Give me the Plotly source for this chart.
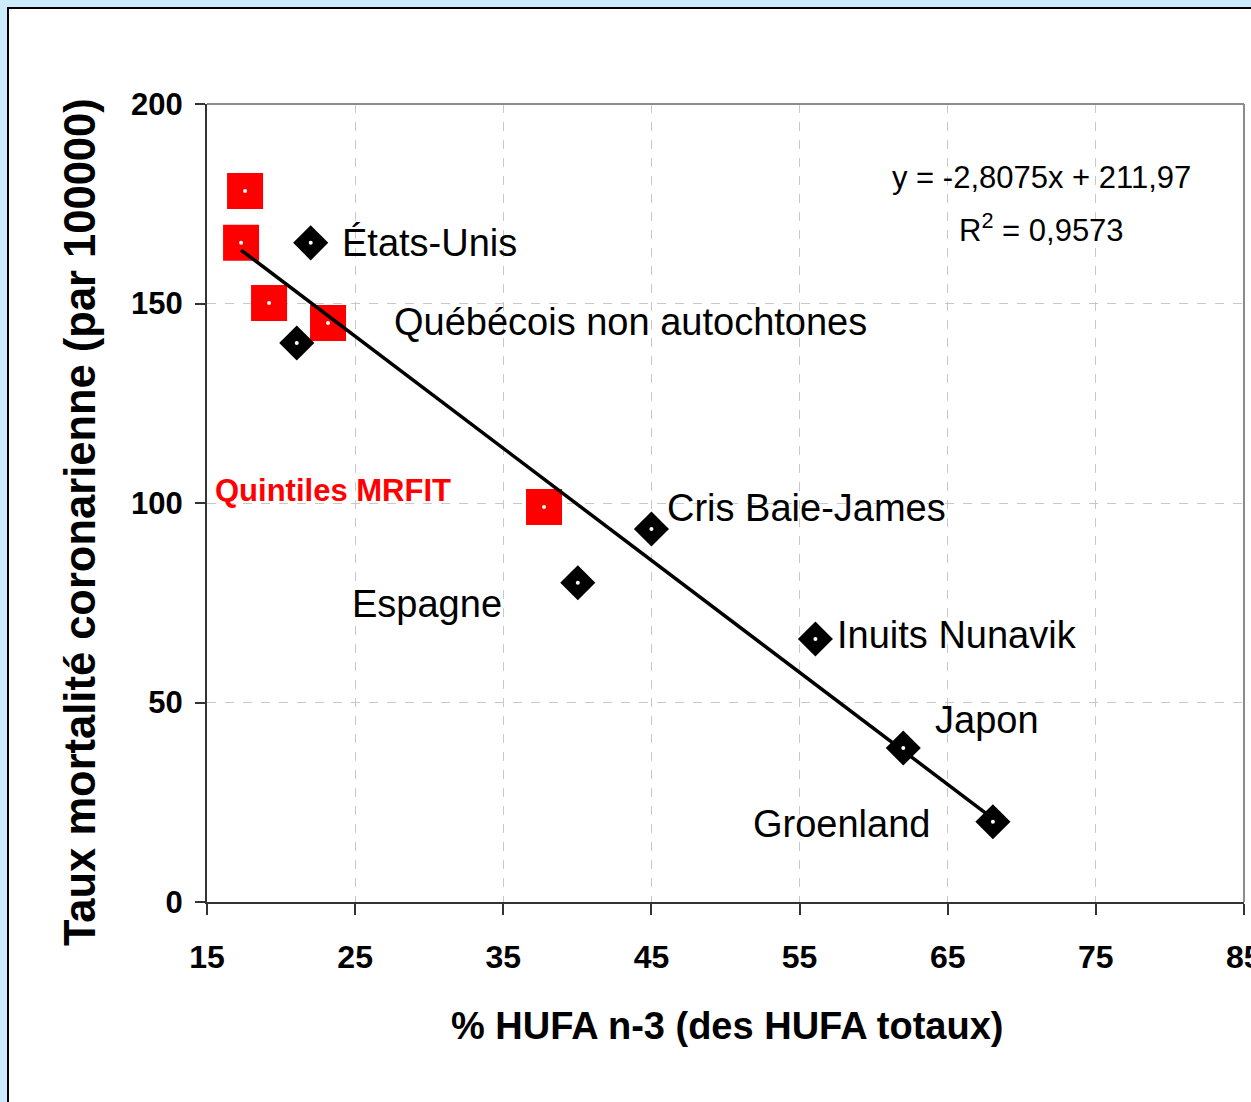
import plotly.graph_objects as go

# ---- data ----
mrfit_x = [17.57, 17.3, 19.19, 23.17, 37.75]
mrfit_y = [178.2, 165.2, 150.1, 145.1, 99.0]

pop_names = ["États-Unis", "Québécois non autochtones", "Espagne", "Cris Baie-James",
             "Inuits Nunavik", "Japon", "Groenland"]
pop_x = [22.0, 21.06, 40.03, 45.0, 56.07, 62.0, 68.05]
pop_y = [165.2, 140.1, 80.0, 93.5, 65.9, 38.6, 20.1]

trend_x = [17.3, 68.05]
trend_y = [163.4, 20.9]

x_ticks = [15, 25, 35, 45, 55, 65, 75, 85]
y_ticks = [0, 50, 100, 150, 200]

eq_text = "y = -2,8075x + 211,97"
r2_text = "R<sup>2</sup> = 0,9573"
x_title = "% HUFA n-3 (des HUFA totaux)"
y_title = "Taux mortalité coronarienne (par 100000)"

FONT = "Arial, Liberation Sans, sans-serif"

fig = go.Figure()
fig.add_trace(go.Scatter(x=mrfit_x, y=mrfit_y, mode="markers",
                         marker=dict(symbol="square", size=36, color="#FF0000",
                                     line=dict(width=0)),
                         hoverinfo="skip", showlegend=False))
fig.add_trace(go.Scatter(x=pop_x, y=pop_y, mode="markers",
                         marker=dict(symbol="diamond", size=27, color="black",
                                     line=dict(width=0)),
                         text=pop_names, showlegend=False))
fig.add_trace(go.Scatter(x=trend_x, y=trend_y, mode="lines",
                         line=dict(color="black", width=3.5),
                         hoverinfo="skip", showlegend=False))
fig.add_trace(go.Scatter(x=mrfit_x + pop_x, y=mrfit_y + pop_y, mode="markers",
                         marker=dict(symbol="circle", size=4, color="white",
                                     line=dict(width=0)),
                         hoverinfo="skip", showlegend=False))

# label annotations (positions in data units)
label_pos = {
    "États-Unis": (23.98, 165.2),
    "Québécois non autochtones": (27.49, 145.4),
    "Espagne": (24.66, 74.8),
    "Cris Baie-James": (45.92, 98.8),
    "Inuits Nunavik": (57.4, 67.0),
    "Japon": (64.02, 45.5),
    "Groenland": (51.73, 19.6),
}
annotations = []
for name in pop_names:
    lx, ly = label_pos[name]
    annotations.append(dict(x=lx, y=ly, xref="x", yref="y", text=name,
                            showarrow=False, xanchor="left", yanchor="middle",
                            font=dict(family=FONT, size=38, color="black")))
annotations.append(dict(x=15.41, y=103.2, xref="x", yref="y", text="<b>Quintiles MRFIT</b>",
                        showarrow=False, xanchor="left", yanchor="middle",
                        font=dict(family=FONT, size=31, color="#FF0000")))
annotations.append(dict(x=71.31, y=181.5, xref="x", yref="y", text=eq_text,
                        showarrow=False, xanchor="center", yanchor="middle",
                        font=dict(family=FONT, size=31, color="black")))
annotations.append(dict(x=71.31, y=169.0, xref="x", yref="y", text=r2_text,
                        showarrow=False, xanchor="center", yanchor="middle",
                        font=dict(family=FONT, size=31, color="black")))

W, H = 1251, 1102
L, R, T, B = 207, 7, 104, 200
pw, ph = W - L - R, H - T - B

# last tick label (at the clipped right edge) drawn as annotation
annotations.append(dict(x=x_ticks[-1], y=(H - B - 957) / ph, xref="x", yref="paper",
                        text=f"<b>{x_ticks[-1]}</b>", showarrow=False,
                        xanchor="center", yanchor="middle",
                        font=dict(family=FONT, size=32, color="black")))
# axis titles (pixel-placed)
annotations.append(dict(x=(727 - L) / pw, y=(H - B - 1026) / ph, xref="paper", yref="paper",
                        text="<b>" + x_title + "</b>",
                        showarrow=False, xanchor="center", yanchor="middle",
                        font=dict(family=FONT, size=38, color="black")))
annotations.append(dict(x=(80 - L) / pw, y=(H - B - 522) / ph, xref="paper", yref="paper",
                        text="<b>" + y_title + "</b>",
                        showarrow=False, xanchor="center", yanchor="middle", textangle=-90,
                        font=dict(family=FONT, size=43.5, color="black")))

shapes = [
    # white panel with black border
    dict(type="rect", xref="paper", yref="paper",
         x0=(8 - L) / pw, x1=(W + 20 - L) / pw,
         y0=(H - B - (H + 20)) / ph, y1=(H - B - 8) / ph,
         fillcolor="white", line=dict(color="black", width=2), layer="below"),
    # top & right plot frame
    dict(type="line", xref="paper", yref="paper", x0=0, x1=1, y0=1, y1=1,
         line=dict(color="#8c8c8c", width=2)),
    dict(type="line", xref="paper", yref="paper", x0=1, x1=1, y0=0, y1=1,
         line=dict(color="#8c8c8c", width=2)),
]

fig.update_layout(
    width=W, height=H,
    margin=dict(l=L, r=R, t=T, b=B, pad=0),
    paper_bgcolor="#CCEBFC",
    plot_bgcolor="white",
    font=dict(family=FONT, color="black"),
    annotations=annotations,
    shapes=shapes,
    showlegend=False,
)
fig.update_xaxes(range=[15, 85], tickvals=x_ticks,
                 ticktext=[f"<b>{v}</b>" for v in x_ticks[:-1]] + [""],
                 showgrid=True, gridcolor="#c8c8c8", griddash="dash", gridwidth=1,
                 showline=True, linecolor="#333333", linewidth=2,
                 ticks="outside", ticklen=11, tickcolor="#333333", tickwidth=1.5,
                 tickfont=dict(family=FONT, size=32, color="black"),
                 ticklabelstandoff=15, zeroline=False)
fig.update_yaxes(range=[0, 200], tickvals=y_ticks, ticktext=[f"<b>{v}</b>" for v in y_ticks],
                 showgrid=True, gridcolor="#c8c8c8", griddash="dash", gridwidth=1,
                 showline=True, linecolor="#333333", linewidth=2,
                 ticks="outside", ticklen=10, tickcolor="#333333", tickwidth=1.5,
                 tickfont=dict(family=FONT, size=31, color="black"),
                 ticklabelstandoff=6, zeroline=False)

fig.write_html("out.html", config={"displayModeBar": False},
               post_script="document.body.style.margin='0';document.body.style.padding='0';"
                           "document.body.style.background='#CCEBFC';")
